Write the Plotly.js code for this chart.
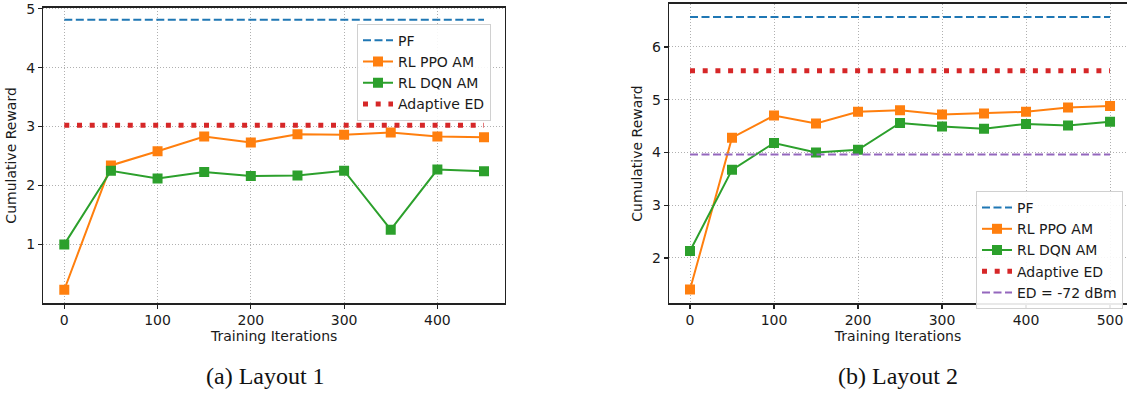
<!DOCTYPE html>
<html>
<head>
<meta charset="utf-8">
<script src="https://cdn.plot.ly/plotly-3.0.1.min.js"></script>
<style>html,body{margin:0;padding:0;background:#fff;}#chart{width:1127px;height:394px;}</style>
</head>
<body>
<div id="chart"></div>
<script>
// ---- Data: Layout 1 ----
const iters1 = [0, 50, 100, 150, 200, 250, 300, 350, 400, 450];
const ppo1 = [0.23, 2.34, 2.58, 2.83, 2.73, 2.87, 2.86, 2.90, 2.83, 2.82];
const dqn1 = [1.00, 2.25, 2.12, 2.23, 2.16, 2.17, 2.25, 1.25, 2.27, 2.24];
const pf1 = 4.81;
const adaptiveED1 = 3.02;

// ---- Data: Layout 2 ----
const iters2 = [0, 50, 100, 150, 200, 250, 300, 350, 400, 450, 500];
const ppo2 = [1.40, 4.28, 4.70, 4.55, 4.77, 4.80, 4.72, 4.74, 4.77, 4.85, 4.88];
const dqn2 = [2.13, 3.67, 4.18, 4.00, 4.05, 4.56, 4.49, 4.45, 4.54, 4.51, 4.58];
const pf2 = 6.57;
const adaptiveED2 = 5.55;
const ed72_2 = 3.96;

const xTicks1 = [0, 100, 200, 300, 400];
const yTicks1 = [1, 2, 3, 4, 5];
const xTicks2 = [0, 100, 200, 300, 400, 500];
const yTicks2 = [2, 3, 4, 5, 6];

const C = {pf:'#1f77b4', ppo:'#ff7f0e', dqn:'#2ca02c', aed:'#d62728', ed:'#9467bd'};
const FONT = 'DejaVu Sans, sans-serif';
const FS = 14;
const flat = (xs, v) => xs.map(() => v);

function traces(xs, ppo, dqn, pf, aed, ed, xa, ya, lg) {
  const t = [
    {x: xs, y: flat(xs, pf), name: 'PF', mode: 'lines', line: {color: C.pf, width: 2, dash: '8px,3.5px'}},
    {x: xs, y: ppo, name: 'RL PPO AM', mode: 'lines+markers', line: {color: C.ppo, width: 2}, marker: {symbol: 'square', size: 10, color: C.ppo}},
    {x: xs, y: dqn, name: 'RL DQN AM', mode: 'lines+markers', line: {color: C.dqn, width: 2}, marker: {symbol: 'square', size: 10, color: C.dqn}},
    {x: xs, y: flat(xs, aed), name: 'Adaptive ED', mode: 'lines', line: {color: C.aed, width: 5, dash: '5px,7.7px'}}
  ];
  if (ed !== null) {
    t.push({x: xs, y: flat(xs, ed), name: 'ED = -72 dBm', mode: 'lines', line: {color: C.ed, width: 2, dash: '8px,3.5px'}});
  }
  t.forEach(tr => { tr.xaxis = xa; tr.yaxis = ya; tr.legend = lg; tr.hoverinfo = 'skip'; });
  return t;
}

const data = [
  ...traces(iters1, ppo1, dqn1, pf1, adaptiveED1, null, 'x', 'y', 'legend'),
  ...traces(iters2, ppo2, dqn2, pf2, adaptiveED2, ed72_2, 'x2', 'y2', 'legend2')
];

const W = 1127, H = 394;
const axBase = {
  showgrid: true, gridcolor: '#b0b0b0', gridwidth: 1, griddash: '1px,2px',
  showline: true, mirror: true, linecolor: '#222', linewidth: 1.3,
  ticks: 'outside', ticklen: 4, tickwidth: 1.2, tickcolor: '#222',
  zeroline: false, tickmode: 'array', ticklabeloverflow: 'allow',
  tickfont: {family: FONT, size: FS, color: '#1a1a1a'}
};
const xTitle = {text: 'Training Iterations', font: {family: FONT, size: FS, color: '#1a1a1a'}, standoff: 3};
const yTitle = {text: 'Cumulative Reward', font: {family: FONT, size: FS, color: '#1a1a1a'}, standoff: 6};

const layout = {
  width: W, height: H, autosize: false,
  margin: {l: 0, r: 0, t: 0, b: 0},
  paper_bgcolor: '#fff', plot_bgcolor: '#fff',
  showlegend: true,
  xaxis: Object.assign({}, axBase, {domain: [43.3/W, 505/W], range: [-22.5, 472.5], tickvals: xTicks1, title: xTitle, anchor: 'y'}),
  yaxis: Object.assign({}, axBase, {domain: [(H-303.3)/H, (H-7.5)/H], range: [0.0, 5.02], tickvals: yTicks1, title: yTitle, anchor: 'x'}),
  xaxis2: Object.assign({}, axBase, {domain: [669/W, 1], range: [-25, 520.2], tickvals: xTicks2, title: xTitle, anchor: 'y2'}),
  yaxis2: Object.assign({}, axBase, {domain: [(H-303.3)/H, (H-3.7)/H], range: [1.14, 6.82], tickvals: yTicks2, title: yTitle, anchor: 'x2'}),
  legend: {x: 357/W, y: (H-23.7)/H, xanchor: 'left', yanchor: 'top', bgcolor: 'rgba(255,255,255,0.9)', bordercolor: '#d0d0d0', borderwidth: 1,
           font: {family: FONT, size: FS, color: '#1a1a1a'}},
  legend2: {x: 976/W, y: (H-191)/H, xanchor: 'left', yanchor: 'top', bgcolor: 'rgba(255,255,255,0.9)', bordercolor: '#d0d0d0', borderwidth: 1,
           font: {family: FONT, size: FS, color: '#1a1a1a'}},
  annotations: [
    {text: '(a) Layout 1', xref: 'paper', yref: 'paper', x: 265/W, y: (H-376)/H, xanchor: 'center', yanchor: 'middle', showarrow: false,
     font: {family: 'Liberation Serif, Times New Roman, serif', size: 24, color: '#111'}},
    {text: '(b) Layout 2', xref: 'paper', yref: 'paper', x: 898/W, y: (H-376)/H, xanchor: 'center', yanchor: 'middle', showarrow: false,
     font: {family: 'Liberation Serif, Times New Roman, serif', size: 24, color: '#111'}}
  ]
};

Plotly.newPlot('chart', data, layout, {staticPlot: true, displayModeBar: false});
</script>
</body>
</html>
